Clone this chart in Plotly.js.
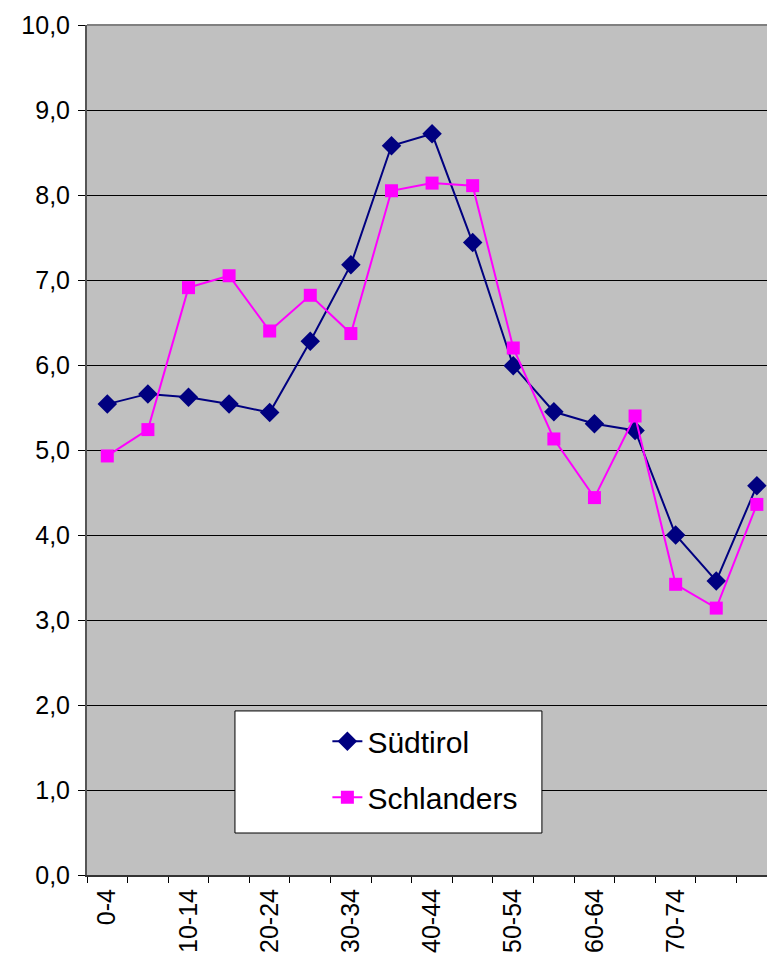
<!DOCTYPE html>
<html>
<head>
<meta charset="utf-8">
<script src="https://cdn.plot.ly/plotly-3.0.1.min.js"></script>
<style>
  html, body { margin: 0; padding: 0; background: #fff; }
  #plot { width: 767px; height: 962px; }
</style>
</head>
<body>
<div id="plot"></div>
<script>
// Altersklassen
var ageGroups = ['0-4', '5-9', '10-14', '15-19', '20-24', '25-29', '30-34', '35-39', '40-44',
                 '45-49', '50-54', '55-59', '60-64', '65-69', '70-74', '75-79', '80+'];
// nur jede zweite Klasse beschriftet
var tickLabels = ['0-4', '', '10-14', '', '20-24', '', '30-34', '', '40-44',
                  '', '50-54', '', '60-64', '', '70-74', '', ''];

// Anteile in %
var suedtirol = [5.54, 5.66, 5.62, 5.54, 5.44, 6.28, 7.18, 8.58, 8.72,
                 7.44, 5.99, 5.45, 5.31, 5.23, 4.00, 3.46, 4.58];
var schlanders = [4.93, 5.24, 6.91, 7.05, 6.40, 6.82, 6.37, 8.05, 8.14,
                  8.11, 6.20, 5.13, 4.44, 5.40, 3.42, 3.14, 4.36];

var trace1 = {
    x: ageGroups,
    y: suedtirol,
    type: 'scatter',
    mode: 'lines+markers',
    name: 'Südtirol',
    legendgroup: 'a',
    line: { color: '#000080', width: 2 },
    marker: { symbol: 'diamond', size: 15, color: '#000080' }
};

var trace2 = {
    x: ageGroups,
    y: schlanders,
    type: 'scatter',
    mode: 'lines+markers',
    name: 'Schlanders',
    legendgroup: 'b',
    line: { color: '#FF00FF', width: 2 },
    marker: { symbol: 'square', size: 13, color: '#FF00FF' }
};

var layout = {
    width: 767,
    height: 962,
    margin: { l: 87, r: 0, t: 25, b: 87 },
    paper_bgcolor: '#ffffff',
    plot_bgcolor: '#C0C0C0',
    separators: ',.',
    font: { family: 'Liberation Sans, Arial, sans-serif', color: '#000', size: 25 },
    showlegend: true,
    xaxis: {
        type: 'category',
        range: [-0.5, 16.25],
        tickmode: 'array',
        tickvals: ageGroups,
        ticktext: tickLabels,
        tickson: 'boundaries',
        ticks: 'outside',
        ticklen: 6,
        tickcolor: '#000',
        tickangle: -90,
        ticklabelstandoff: 2,
        showgrid: false,
        showline: true,
        linecolor: '#333',
        linewidth: 2,
        tickfont: { size: 25 }
    },
    yaxis: {
        range: [0, 10],
        dtick: 1,
        tickformat: '.1f',
        ticks: 'outside',
        ticklen: 7,
        tickcolor: '#000',
        ticklabelstandoff: 3,
        showgrid: true,
        gridcolor: '#000',
        gridwidth: 1,
        zeroline: false,
        showline: true,
        linecolor: '#555',
        linewidth: 2,
        tickfont: { size: 25 }
    },
    shapes: [{
        type: 'line',
        xref: 'paper', yref: 'paper',
        x0: 0, x1: 1, y0: 1, y1: 1,
        line: { color: '#808080', width: 2 }
    }, {
        type: 'rect',
        xref: 'paper', yref: 'paper',
        x0: 0.2176, x1: 0.669, y0: 0.0494, y1: 0.193,
        fillcolor: '#ffffff',
        line: { color: '#000', width: 1 },
        layer: 'above'
    }],
    legend: {
        x: 0.3535,
        y: 0.188,
        xanchor: 'left',
        yanchor: 'top',
        bgcolor: 'rgba(0,0,0,0)',
        borderwidth: 0,
        traceorder: 'grouped',
        tracegroupgap: 14,
        font: { size: 30 }
    }
};

Plotly.newPlot('plot', [trace1, trace2], layout, { displayModeBar: false, staticPlot: true });
</script>
</body>
</html>
